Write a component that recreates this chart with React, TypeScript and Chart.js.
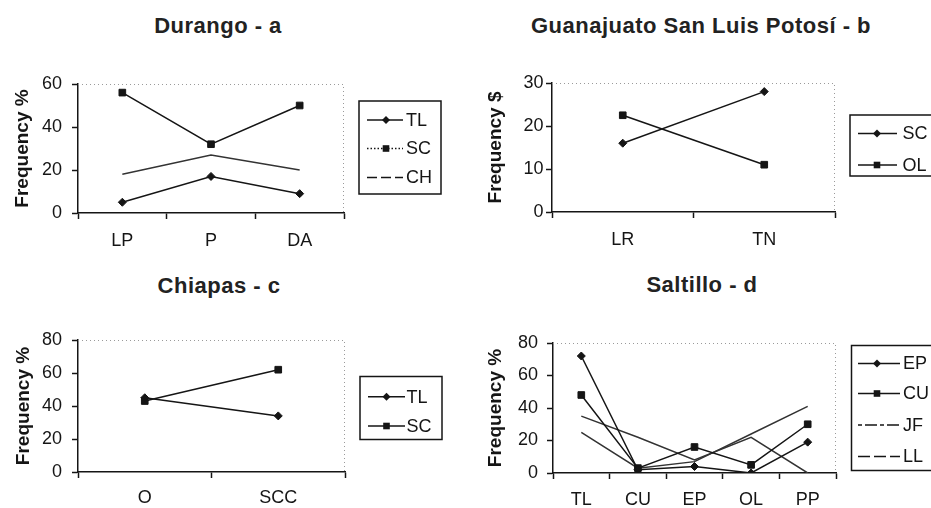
import React, { useEffect, useRef } from 'react';
import { Chart, registerables } from 'chart.js';

Chart.register(...registerables);

const FONT = "'Liberation Sans', Arial, Helvetica, sans-serif";
const INK = '#151515';

// ---- Panel a: Durango ----
const aCategories = ['LP', 'P', 'DA'];
const aTL = [5, 17, 9];
const aSC = [56, 32, 50];
const aCH = [18, 27, 20];
const aTicks = [0, 20, 40, 60];

// ---- Panel b: Guanajuato San Luis Potosí ----
const bCategories = ['LR', 'TN'];
const bSC = [16, 28];
const bOL = [22.5, 11];
const bTicks = [0, 10, 20, 30];

// ---- Panel c: Chiapas ----
const cCategories = ['O', 'SCC'];
const cTL = [45, 34];
const cSC = [43, 62];
const cTicks = [0, 20, 40, 60, 80];

// ---- Panel d: Saltillo ----
const dCategories = ['TL', 'CU', 'EP', 'OL', 'PP'];
const dEP = [72, 2, 4, 0, 19];
const dCU = [48, 3, 16, 5, 30];
const dJF = [35, 22, 8, 22, 0];
const dLL = [25, 3, 7, 24, 41];
const dTicks = [0, 20, 40, 60, 80];

type Series = { label: string; data: number[]; marker: 'diamond' | 'square' | null; legendDash: number[]; color?: string };

type PanelSpec = {
  title: string;
  titleX: number;
  titleTop: number;
  left: number;
  top: number;
  width: number;
  height: number;
  area: { left: number; top: number; right: number; bottom: number };
  categories: string[];
  ticks: number[];
  yTitle: string;
  yTitlePad: number;
  yPad: number;
  xPad: number;
  series: Series[];
  legend: { x: number; y: number; w: number; h: number; rows: number[]; lineX0: number; lineX1: number; markerX: number; textX: number };
};

const panels: PanelSpec[] = [
  {
    title: 'Durango - a', titleX: 218, titleTop: 15,
    left: 0, top: 40, width: 470, height: 225,
    area: { left: 78, top: 44, right: 344, bottom: 173 },
    categories: aCategories, ticks: aTicks,
    yTitle: 'Frequency %', yTitlePad: 11.5, yPad: 10, xPad: 11,
    series: [
      { label: 'TL', data: aTL, marker: 'diamond', legendDash: [] },
      { label: 'SC', data: aSC, marker: 'square', legendDash: [1.5, 2] },
      { label: 'CH', data: aCH, marker: null, legendDash: [10, 4], color: '#333' },
    ],
    legend: { x: 359, y: 61, w: 82, h: 93, rows: [80, 108.5, 137.5], lineX0: 367, lineX1: 403, markerX: 386, textX: 406 },
  },
  {
    title: 'Guanajuato San Luis Potosí - b', titleX: 701, titleTop: 14.5,
    left: 470, top: 40, width: 461, height: 225,
    area: { left: 82, top: 43, right: 365, bottom: 172 },
    categories: bCategories, ticks: bTicks,
    yTitle: 'Frequency $', yTitlePad: 13.9, yPad: 2.5, xPad: 11,
    series: [
      { label: 'SC', data: bSC, marker: 'diamond', legendDash: [] },
      { label: 'OL', data: bOL, marker: 'square', legendDash: [] },
    ],
    legend: { x: 380, y: 75, w: 100, h: 61, rows: [93.5, 125], lineX0: 388, lineX1: 427, markerX: 407, textX: 432.5 },
  },
  {
    title: 'Chiapas - c', titleX: 219, titleTop: 275,
    left: 0, top: 300, width: 470, height: 208,
    area: { left: 78, top: 40, right: 345, bottom: 172 },
    categories: cCategories, ticks: cTicks,
    yTitle: 'Frequency %', yTitlePad: 12.4, yPad: 10, xPad: 9,
    series: [
      { label: 'TL', data: cTL, marker: 'diamond', legendDash: [] },
      { label: 'SC', data: cSC, marker: 'square', legendDash: [] },
    ],
    legend: { x: 360, y: 76.5, w: 82, h: 63, rows: [96.7, 126], lineX0: 368, lineX1: 405, markerX: 386.5, textX: 406.5 },
  },
  {
    title: 'Saltillo - d', titleX: 702, titleTop: 274.3,
    left: 470, top: 300, width: 461, height: 208,
    area: { left: 83, top: 43, right: 366, bottom: 173 },
    categories: dCategories, ticks: dTicks,
    yTitle: 'Frequency %', yTitlePad: 14.1, yPad: 9, xPad: 10,
    series: [
      { label: 'EP', data: dEP, marker: 'diamond', legendDash: [] },
      { label: 'CU', data: dCU, marker: 'square', legendDash: [] },
      { label: 'JF', data: dJF, marker: null, legendDash: [4, 3, 12, 3], color: '#333' },
      { label: 'LL', data: dLL, marker: null, legendDash: [12, 4], color: '#333' },
    ],
    legend: { x: 381.5, y: 45.5, w: 100, h: 125, rows: [63.5, 93.5, 125, 156.5], lineX0: 388, lineX1: 430, markerX: 407, textX: 433 },
  },
];

function drawMarker(ctx: CanvasRenderingContext2D, kind: string | null, x: number, y: number) {
  if (!kind) return;
  ctx.fillStyle = INK;
  ctx.beginPath();
  if (kind === 'diamond') {
    ctx.moveTo(x, y - 4);
    ctx.lineTo(x + 4, y);
    ctx.lineTo(x, y + 4);
    ctx.lineTo(x - 4, y);
    ctx.closePath();
  } else {
    ctx.rect(x - 3.3, y - 3.3, 6.6, 6.6);
  }
  ctx.fill();
}

const boxLegend = {
  id: 'boxLegend',
  afterDraw(chart: any, _args: any, opts: any) {
    const { ctx } = chart;
    const lg = opts.layout;
    if (!lg) return;
    ctx.save();
    ctx.strokeStyle = INK;
    ctx.lineWidth = 1.5;
    ctx.setLineDash([]);
    ctx.strokeRect(lg.x, lg.y, lg.w, lg.h);
    chart.data.datasets.forEach((ds: any, i: number) => {
      const y = lg.rows[i];
      ctx.strokeStyle = INK;
      ctx.lineWidth = 1.5;
      ctx.setLineDash(ds.legendDash || []);
      ctx.beginPath();
      ctx.moveTo(lg.lineX0, y);
      ctx.lineTo(lg.lineX1, y);
      ctx.stroke();
      ctx.setLineDash([]);
      drawMarker(ctx, ds.marker, lg.markerX, y);
      ctx.fillStyle = INK;
      ctx.font = `18px ${FONT}`;
      ctx.textAlign = 'left';
      ctx.textBaseline = 'middle';
      ctx.fillText(ds.label, lg.textX, y + 1);
    });
    ctx.restore();
  },
};

const plotFrame = {
  id: 'plotFrame',
  beforeDatasetsDraw(chart: any) {
    const { ctx, chartArea } = chart;
    const { left, right, top, bottom } = chartArea;
    ctx.save();
    ctx.strokeStyle = '#9a9a9a';
    ctx.lineWidth = 1;
    ctx.setLineDash([1, 3]);
    ctx.beginPath();
    ctx.moveTo(left, top + 0.5);
    ctx.lineTo(right - 0.5, top + 0.5);
    ctx.lineTo(right - 0.5, bottom);
    ctx.stroke();
    ctx.restore();
  },
};

function buildConfig(p: PanelSpec): any {
  return {
    type: 'line',
    data: {
      labels: p.categories,
      datasets: p.series.map((s) => ({
        label: s.label,
        data: s.data,
        borderColor: s.color || INK,
        backgroundColor: INK,
        borderWidth: 1.5,
        pointStyle: s.marker === 'diamond' ? 'rectRot' : 'rect',
        pointRadius: s.marker ? (s.marker === 'diamond' ? 4 : 4.7) : 0,
        pointHoverRadius: 0,
        pointBorderWidth: 1,
        pointBackgroundColor: INK,
        pointBorderColor: INK,
        tension: 0,
        fill: false,
        legendDash: s.legendDash,
        marker: s.marker,
      })),
    },
    options: {
      responsive: false,
      animation: false,
      events: [],
      layout: { padding: { left: 0, top: p.area.top, right: p.width - p.area.right, bottom: 0 } },
      plugins: {
        legend: { display: false },
        tooltip: { enabled: false },
        title: { display: false },
        boxLegend: { layout: p.legend },
      },
      scales: {
        x: {
          type: 'category',
          offset: true,
          afterFit: (s: any) => { s.height = p.height - p.area.bottom; },
          grid: { display: true, offset: true, drawOnChartArea: false, drawTicks: true, tickLength: 6, tickColor: INK, tickWidth: 1.5 },
          border: { display: true, color: INK, width: 1.5 },
          ticks: { color: INK, font: { family: FONT, size: 18 }, padding: p.xPad, maxRotation: 0, autoSkip: false },
        },
        y: {
          type: 'linear',
          min: p.ticks[0],
          max: p.ticks[p.ticks.length - 1],
          afterFit: (s: any) => { s.width = p.area.left; },
          afterBuildTicks: (s: any) => { s.ticks = p.ticks.map((v) => ({ value: v })); },
          grid: { display: true, drawOnChartArea: false, drawTicks: true, tickLength: 6, tickColor: INK, tickWidth: 1.5 },
          border: { display: true, color: INK, width: 1.5 },
          ticks: { color: INK, font: { family: FONT, size: 18 }, padding: p.yPad },
          title: {
            display: true,
            text: p.yTitle,
            color: INK,
            font: { family: FONT, size: 19, weight: 'bold' },
            padding: { top: p.yTitlePad, bottom: 0 },
          },
        },
      },
    },
    plugins: [plotFrame, boxLegend],
  };
}

function Panel({ spec }: { spec: PanelSpec }) {
  const ref = useRef<HTMLCanvasElement>(null);
  useEffect(() => {
    const chart = new Chart(ref.current as HTMLCanvasElement, buildConfig(spec));
    return () => chart.destroy();
  }, [spec]);
  return (
    <>
      <canvas
        ref={ref}
        width={spec.width}
        height={spec.height}
        style={{ position: 'absolute', left: spec.left, top: spec.top, width: spec.width, height: spec.height }}
      />
      <div
        style={{
          position: 'absolute',
          left: spec.titleX - 200,
          top: spec.titleTop,
          width: 400,
          textAlign: 'center',
          fontFamily: FONT,
          fontWeight: 'bold',
          fontSize: 22,
          lineHeight: '22px',
          letterSpacing: '0.5px',
          color: '#222',
          whiteSpace: 'nowrap',
        }}
      >
        {spec.title}
      </div>
    </>
  );
}

export default function App() {
  return (
    <div style={{ position: 'absolute', left: 0, top: 0, width: 931, height: 508, overflow: 'hidden', background: '#fff' }}>
      {panels.map((p) => (
        <Panel key={p.title} spec={p} />
      ))}
    </div>
  );
}
